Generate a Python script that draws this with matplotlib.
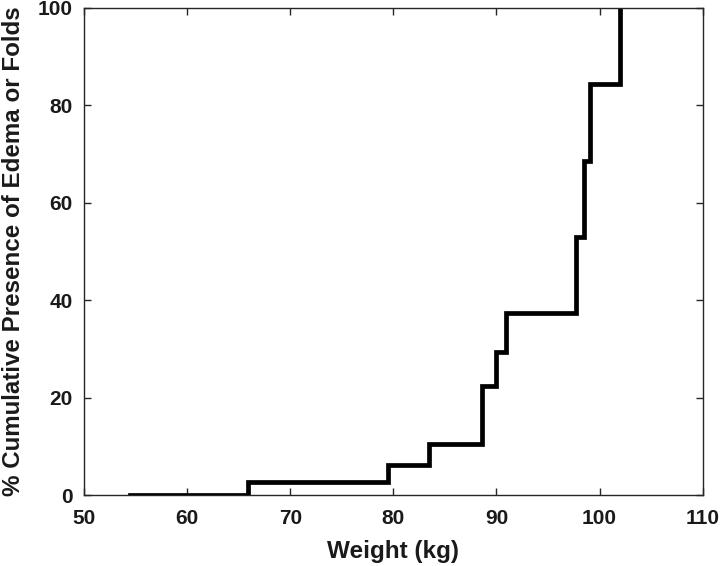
import numpy as np
import matplotlib
matplotlib.use('Agg')
from matplotlib import pyplot as plt

plt.rcParams['font.family'] = ['Liberation Sans', 'DejaVu Sans']

# step points (weight, cumulative %)
weight = [54.5, 65.9, 79.5, 83.5, 88.6, 90.0, 90.9, 97.7, 98.5, 99.1, 102.0]
cum_pct = [0, 2.6, 6.2, 10.4, 22.4, 29.4, 37.3, 53.0, 68.6, 84.3, 100]

fig = plt.figure(figsize=(7.2, 5.66), dpi=100)
ax = fig.add_axes([0.1167, 0.1254, 0.976 - 0.1167, 0.986 - 0.1254])

ax.plot(weight, cum_pct, drawstyle='steps-post', color='black', linewidth=3.4,
        solid_joinstyle='miter')

ax.set_xlim(50, 110)
ax.set_ylim(0, 100)
ax.set_xticks(range(50, 111, 10))
ax.set_yticks(range(0, 101, 20))

for s in ax.spines.values():
    s.set_color('#262626')
    s.set_linewidth(1.0)

ax.tick_params(direction='in', length=5, width=1, color='#262626',
               top=True, right=True, labelsize=15, pad=8)
ax.tick_params(axis='x', pad=10)
for lab in ax.get_xticklabels() + ax.get_yticklabels():
    lab.set_fontweight('bold')
    lab.set_color('#1a1a1a')

ax.set_xlabel('Weight (kg)', fontsize=17.5, fontweight='bold', color='#1a1a1a', labelpad=8.5)
ax.set_ylabel('% Cumulative Presence of Edema or Folds', fontsize=17.4,
              fontweight='bold', color='#1a1a1a', labelpad=9)

plt.savefig('out.png', dpi=100)
